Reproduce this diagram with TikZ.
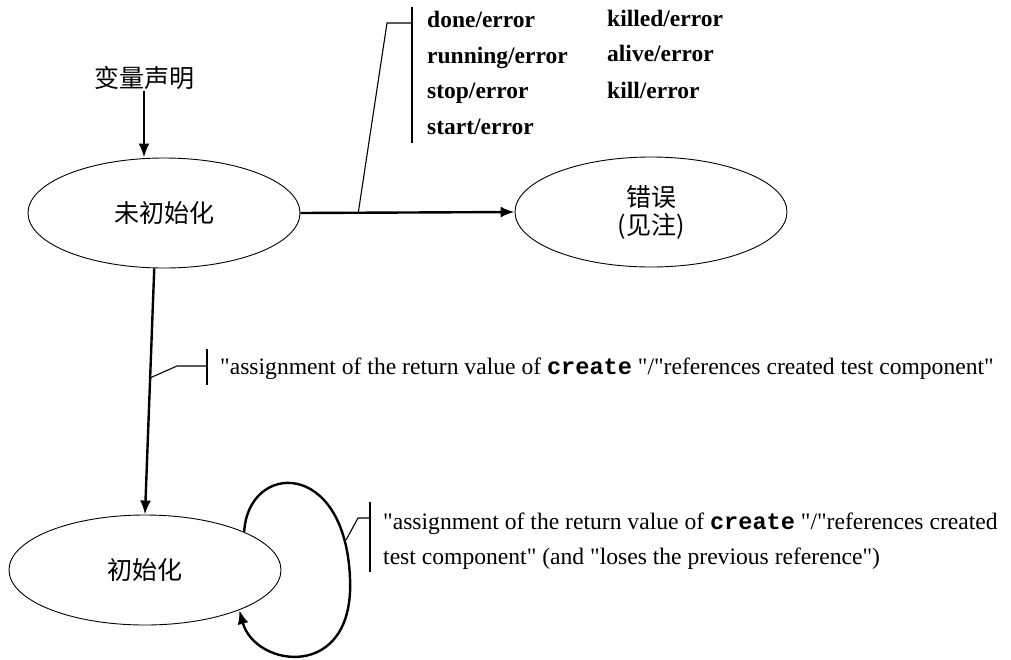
\documentclass[tikz,border=0pt]{standalone}
\usepackage{fontspec}
\setmainfont{Liberation Serif}[Ligatures=TeXOff]
\setmonofont{Liberation Mono}[Ligatures=TeXOff]
\newfontfamily\cjk{Noto Sans CJK SC}
\usetikzlibrary{shapes.geometric,arrows.meta}
\begin{document}
\begin{tikzpicture}[x=1pt,y=-1pt,
  state/.style={ellipse, draw, line width=0.9pt, minimum width=272pt, minimum height=110pt, inner sep=0pt, font=\cjk\fontsize{25}{28}\selectfont, align=center},
  trans/.style={line width=2.4pt, -{Latex[length=14pt,width=11pt]}},
  lead/.style={line width=1.1pt},
  bar/.style={line width=2.6pt},
  lbl/.style={anchor=base west, inner sep=0pt, font=\fontsize{23.6}{35}\selectfont, align=left},
  blbl/.style={anchor=base west, inner sep=0pt, font=\bfseries\fontsize{23.5}{28}\selectfont},
]
\useasboundingbox (0,0) rectangle (1011,659);

\node[state] (u) at (164,213) {未初始化};
\node[state] (e) at (651,212) {错误\\(见注)};
\node[state] (i) at (145,570) {初始化};
\node[font=\cjk\fontsize{25}{28}\selectfont, inner sep=1pt] (d) at (144,78) {变量声明};

% transitions
\draw[trans] (d.south) -- (d.south |- u.north);
\draw[trans] (u.east) -- coordinate[pos=0.27] (t1) (e.west);
\draw[trans] (u.-100) -- coordinate[pos=0.445] (m1) (i.north);
\coordinate (lp) at (346,540);
\draw[trans] (i.21) .. controls (248,462) and (345,458) .. (350,578) .. controls (355,682) and (255,668) .. (i.-23);

% top label
\coordinate (t2) at (387,23);
\coordinate (t3) at (412,23);
\draw[lead] (t1) -- (t2) -- (t3);
\draw[bar] (412,7) -- (412,143);
\node[blbl] (l1) at (427,27) {done/error};
\node[blbl] (l2) at (427,63) {running/error};
\node[blbl] (l3) at (427,98) {stop/error};
\node[blbl] (l4) at (427,134) {start/error};
\node[blbl] (l5) at (607,26) {killed/error};
\node[blbl] (l6) at (607,61) {alive/error};
\node[blbl] (l7) at (607,98) {kill/error};

% middle label
\coordinate (m2) at (177,366);
\coordinate (m3) at (207,366);
\draw[lead] (m1) -- (m2) -- (m3);
\draw[bar] (207,349) -- (207,385);
\node[lbl] (mt) at (220,374) {"assignment of the return value of \texttt{\textbf{create}} "/"references created test component"};

% loop label
\coordinate (lp2) at (358,518);
\coordinate (lp3) at (370,518);
\draw[lead] (lp) -- (lp2) -- (lp3);
\draw[bar] (370,502) -- (370,572);
\node[lbl] (lt1) at (383,529) {"assignment of the return value of \texttt{\textbf{create}} "/"references created};
\node[lbl] (lt2) at (383,564) {test component" (and "loses the previous reference")};
\end{tikzpicture}
\end{document}
